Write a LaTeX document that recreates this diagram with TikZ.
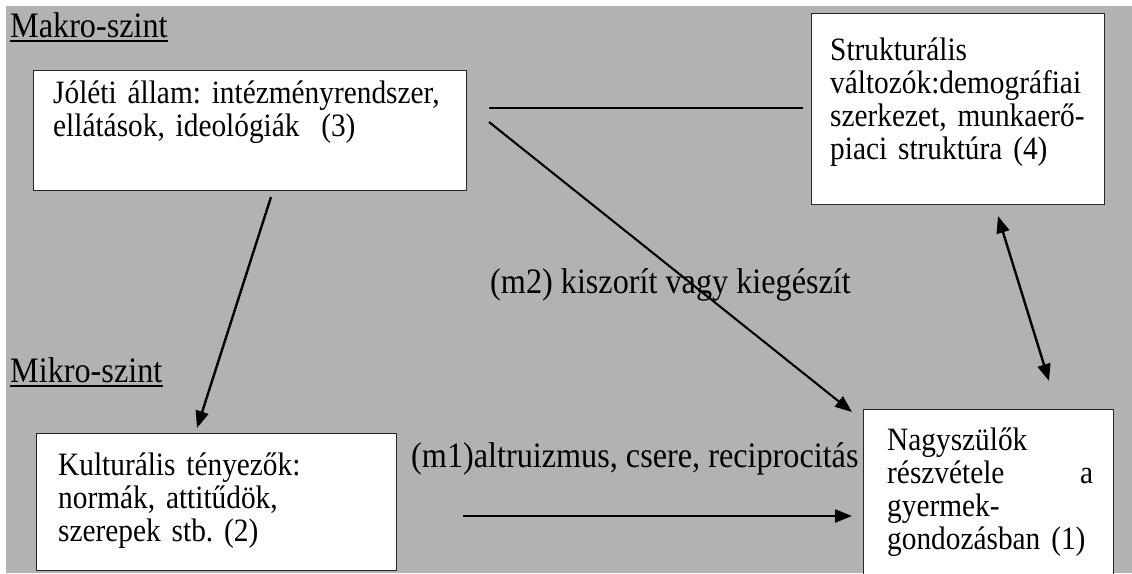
\documentclass[tikz,border=0pt]{standalone}
\usepackage{fontspec}
\setmainfont{Liberation Serif}[FakeStretch=0.9]
\usetikzlibrary{arrows.meta}
\begin{document}
\frenchspacing
\begin{tikzpicture}[x=1pt,y=-1pt,
  box/.style={draw=black!85, line width=1.4pt, fill=white, inner sep=0pt, anchor=north west},
  txt/.style={font=\fontsize{32.6}{33.3}\selectfont, inner sep=0pt, anchor=base west, align=left, text width=#1},
  lbl/.style={font=\fontsize{35.8}{38}\selectfont, inner sep=0pt, anchor=base west},
  conn/.style={line width=1.9pt},
  arr/.style={line width=2.4pt, -{Triangle[length=17pt,width=13pt]}},
  darr/.style={line width=2.4pt, {Triangle[length=17pt,width=13pt]}-{Triangle[length=17pt,width=13pt]}}]
\useasboundingbox (0,0) rectangle (1132,573);
\clip (0,0) rectangle (1132,573);
\fill[gray!60] (6,6) rectangle (1132,573);
% boxes
\node[box, minimum width=433pt, minimum height=120pt] (b3) at (33,70) {};
\node[box, minimum width=293pt, minimum height=191pt] (b4) at (811,13) {};
\node[box, minimum width=250pt, minimum height=200pt] (b1) at (863,409) {};
\node[box, minimum width=360pt, minimum height=137pt] (b2) at (36,433) {};
% texts
\node[txt=420pt] (t3) at (53,103) {Jóléti állam: intézményrendszer,\\ellátások, ideológiák\ \ (3)};
\node[txt=265pt] (t4) at (830,60) {Strukturális\\változók:demográfiai\\szerkezet, munkaerő-\\piaci struktúra (4)};
\node[txt=206pt] (t1) at (887,450) {Nagyszülők\\részvétele\hfill a\\gyermek-\\gondozásban (1)};
\node[txt=320pt] (t2) at (58,475) {Kulturális tényezők:\\normák, attitűdök,\\szerepek stb. (2)};
\node[lbl] (makro) at (10,37) {Makro-szint};
\node[lbl] (mikro) at (10,382) {Mikro-szint};
\draw[line width=1.6pt] ([yshift=-4pt]makro.base west) -- ([yshift=-4pt]makro.base east);
\draw[line width=1.6pt] ([yshift=-4pt]mikro.base west) -- ([yshift=-4pt]mikro.base east);
\node[lbl] (m2) at (490,293) {(m2) kiszorít vagy kiegészít};
\node[lbl] (m1) at (411,467) {(m1)altruizmus, csere, reciprocitás};
% connector end points
\coordinate (c3r) at (489,108);
\coordinate (c4l) at (803,108);
\coordinate (c3d) at (489,122);
\coordinate (c1tl) at (852,412);
\coordinate (c3b) at (271,197);
\coordinate (c2t) at (197,428);
\coordinate (c4b) at (998,216);
\coordinate (c1t) at (1049,381);
\coordinate (c2r) at (463,516);
\coordinate (c1l) at (852,516);
% connectors
\draw[conn] (c3r) -- (c4l);
\draw[arr, line width=2.1pt] (c3d) -- (c1tl);
\draw[arr] (c3b) -- (c2t);
\draw[darr] (c4b) -- (c1t);
\draw[arr] (c2r) -- (c1l);
\end{tikzpicture}
\end{document}
